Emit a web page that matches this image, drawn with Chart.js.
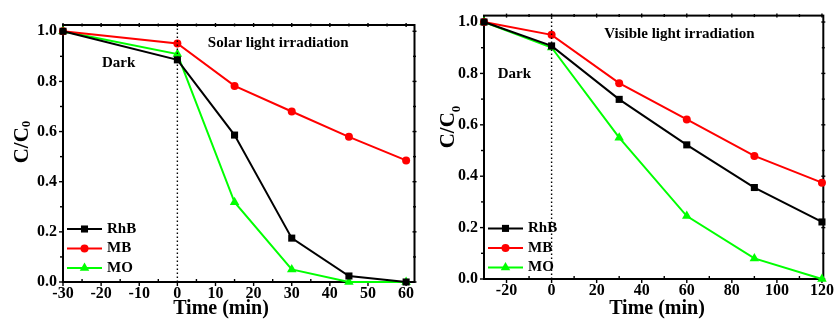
<!DOCTYPE html>
<html>
<head>
<meta charset="utf-8">
<script src="https://cdn.jsdelivr.net/npm/chart.js@4.4.0/dist/chart.umd.min.js"></script>
<style>
  body { margin: 0; background: #fff; }
  #wrap { position: relative; width: 836px; height: 320px; }
  .panel { position: absolute; top: 0; }
</style>
</head>
<body>
<div id="wrap">
  <div class="panel" style="left:0"><canvas id="solarChart" width="420" height="320"></canvas></div>
  <div class="panel" style="left:420px"><canvas id="visibleChart" width="416" height="320"></canvas></div>
</div>
<script>
// dye names used in both panels
const SERIES_NAMES = ['RhB', 'MB', 'MO'];

// solar light panel (C/C0 vs time)
const solarTime = [-30, 0, 15, 30, 45, 60];
const solarRhB = [1.0, 0.886, 0.586, 0.175, 0.024, 0.0];
const solarMB = [1.0, 0.951, 0.782, 0.68, 0.579, 0.485];
const solarMO = [1.0, 0.909, 0.318, 0.05, 0.0, 0.0];

// visible light panel
const visibleTime = [-30, 0, 30, 60, 90, 120];
const visibleRhB = [1.0, 0.907, 0.699, 0.522, 0.356, 0.222];
const visibleMB = [1.0, 0.95, 0.762, 0.621, 0.479, 0.375];
const visibleMO = [1.0, 0.901, 0.55, 0.245, 0.08, 0.0];

// tick values
const solarXTicks = [-30, -20, -10, 0, 10, 20, 30, 40, 50, 60];
const solarXMinor = [-25, -15, -5, 5, 15, 25, 35, 45, 55];
const visibleXTicks = [-20, 0, 20, 40, 60, 80, 100, 120];
const visibleXMinor = [-10, 10, 30, 50, 70, 90, 110];
const yTicks = [0, 0.2, 0.4, 0.6, 0.8, 1.0];
const yMinor = [0.1, 0.3, 0.5, 0.7, 0.9];

// text labels inside the plots
const solarLabels = ['Solar light irradiation', 'Dark'];
const visibleLabels = ['Visible light irradiation', 'Dark'];

const FONT = "'Liberation Serif', 'Times New Roman', serif";
const COLORS = ['#000000', '#ff0000', '#00ff00'];
const STYLES = [
  {pointStyle: 'rect', radius: 5},
  {pointStyle: 'circle', radius: 4},
  {pointStyle: 'triangle', radius: 5.5}
];

function buildDatasets(time, seriesList) {
  const sets = seriesList.map((vals, i) => ({
    label: SERIES_NAMES[i],
    data: time.map((t, k) => ({x: t, y: vals[k]})),
    borderColor: COLORS[i],
    backgroundColor: COLORS[i],
    borderWidth: 2,
    pointStyle: STYLES[i].pointStyle,
    pointRadius: STYLES[i].radius,
    pointBorderWidth: 0,
    clip: false
  }));
  // dotted separator between dark and light periods
  sets.unshift({
    label: 'divider',
    data: [{x: 0, y: 0}, {x: 0, y: 1.03}],
    borderColor: '#000',
    borderWidth: 1.4,
    borderDash: [1.4, 2.6],
    pointRadius: 0
  });
  return sets;
}

const framePlugin = {
  id: 'frame',
  beforeDatasetsDraw(chart, args, opts) {
    const {ctx, chartArea: a, scales: {x, y}} = chart;
    ctx.save();
    ctx.strokeStyle = '#000';
    ctx.lineWidth = 1.4;
    const line = (x1, y1, x2, y2) => {
      ctx.beginPath(); ctx.moveTo(x1, y1); ctx.lineTo(x2, y2); ctx.stroke();
    };
    opts.xMajor.forEach(v => {
      const px = x.getPixelForValue(v);
      line(px, a.bottom, px, a.bottom + 4);
      line(px, a.top - 2, px, a.top + 2);
    });
    opts.xMinor.forEach(v => {
      const px = x.getPixelForValue(v);
      line(px, a.bottom, px, a.bottom - 3);
      line(px, a.top - 1.5, px, a.top + 1.5);
    });
    yTicks.forEach(v => {
      const py = y.getPixelForValue(v);
      line(a.left - 4, py, a.left, py);
      line(a.right - 2, py, a.right + 2, py);
    });
    yMinor.forEach(v => {
      const py = y.getPixelForValue(v);
      line(a.left - 3, py, a.left, py);
      line(a.right - 1.5, py, a.right + 1.5, py);
    });
    ctx.lineWidth = 2;
    ctx.strokeRect(a.left, a.top, a.right - a.left, a.bottom - a.top);
    ctx.restore();
  },
  afterDraw(chart, args, opts) {
    const {ctx, chartArea: a, scales: {x, y}} = chart;
    ctx.save();
    ctx.fillStyle = '#000';

    // x title
    ctx.font = `bold 20px ${FONT}`;
    ctx.textAlign = 'center';
    ctx.textBaseline = 'middle';
    ctx.fillText('Time (min)', opts.xTitle[0], opts.xTitle[1]);

    // y title C/C0 rotated
    ctx.save();
    ctx.translate(opts.yTitle[0], opts.yTitle[1]);
    ctx.rotate(-Math.PI / 2);
    ctx.font = `bold 21px ${FONT}`;
    const w1 = ctx.measureText('C/C').width;
    ctx.font = `bold 13px ${FONT}`;
    const w2 = ctx.measureText('0').width;
    const start = -(w1 + w2) / 2;
    ctx.textAlign = 'left';
    ctx.textBaseline = 'alphabetic';
    ctx.font = `bold 21px ${FONT}`;
    ctx.fillText('C/C', start, 7);
    ctx.font = `bold 13px ${FONT}`;
    ctx.fillText('0', start + w1, 7 + opts.subShift);
    ctx.restore();

    // annotations
    ctx.font = `bold 15px ${FONT}`;
    ctx.textAlign = 'left';
    ctx.textBaseline = 'middle';
    opts.labels.forEach((txt, i) => {
      const pos = opts.labelAt[i];
      ctx.fillText(txt, x.getPixelForValue(pos[0]), y.getPixelForValue(pos[1]));
    });

    // legend
    const sets = chart.data.datasets.filter(d => SERIES_NAMES.includes(d.label));
    sets.forEach((d, i) => {
      const ly = a.bottom - opts.legendRows[i];
      const lx = a.left + 4;
      ctx.strokeStyle = d.borderColor;
      ctx.fillStyle = d.backgroundColor;
      ctx.lineWidth = 2;
      ctx.beginPath(); ctx.moveTo(lx, ly); ctx.lineTo(lx + 35, ly); ctx.stroke();
      Chart.helpers.drawPoint(ctx, {pointStyle: d.pointStyle, radius: d.pointRadius, borderWidth: 0, rotation: 0}, lx + 17.5, ly);
      ctx.fillStyle = '#000';
      ctx.fillText(d.label, lx + 40, ly);
    });
    ctx.restore();
  }
};

function makeChart(id, datasets, xMin, xMax, xMajor, xMinor, plotBox, frameOpts) {
  const canvas = document.getElementById(id);
  return new Chart(canvas, {
    type: 'line',
    data: {datasets: datasets},
    plugins: [framePlugin],
    options: {
      responsive: false,
      animation: false,
      devicePixelRatio: 1,
      layout: {padding: {left: 0, right: plotBox.right, top: plotBox.top, bottom: 0}},
      plugins: {
        legend: {display: false},
        tooltip: {enabled: false},
        frame: Object.assign({xMajor: xMajor, xMinor: xMinor}, frameOpts)
      },
      scales: {
        x: {
          type: 'linear',
          min: xMin,
          max: xMax,
          grid: {display: false, drawTicks: false},
          border: {display: false},
          afterBuildTicks: s => { s.ticks = xMajor.map(v => ({value: v})); },
          afterFit: s => { s.height = plotBox.bottom; },
          ticks: {
            padding: 2,
            color: '#000',
            font: {family: FONT, weight: 'bold', size: 16},
            callback: v => String(v)
          }
        },
        y: {
          type: 'linear',
          min: 0,
          max: 1.025,
          grid: {display: false, drawTicks: false},
          border: {display: false},
          afterBuildTicks: s => { s.ticks = yTicks.map(v => ({value: v})); },
          afterFit: s => { s.width = plotBox.left; },
          ticks: {
            padding: 6,
            color: '#000',
            font: {family: FONT, weight: 'bold', size: 16},
            callback: v => v.toFixed(1)
          }
        }
      }
    }
  });
}

makeChart('solarChart',
  buildDatasets(solarTime, [solarRhB, solarMB, solarMO]),
  -30, 62.2, solarXTicks, solarXMinor,
  {left: 63, right: 5, top: 25, bottom: 38},
  {
    xTitle: [221, 309], yTitle: [21, 142], subShift: 2,
    labels: solarLabels, labelAt: [[8, 0.952], [-19.8, 0.873]],
    legendRows: [53, 33.5, 14]
  });

makeChart('visibleChart',
  buildDatasets(visibleTime, [visibleRhB, visibleMB, visibleMO]),
  -30, 120.6, visibleXTicks, visibleXMinor,
  {left: 64, right: 11, top: 15, bottom: 41},
  {
    xTitle: [237, 309], yTitle: [27, 127], subShift: 6,
    labels: visibleLabels, labelAt: [[23.4, 0.954], [-23.9, 0.796]],
    legendRows: [50.6, 31, 11.6]
  });
</script>
</body>
</html>
